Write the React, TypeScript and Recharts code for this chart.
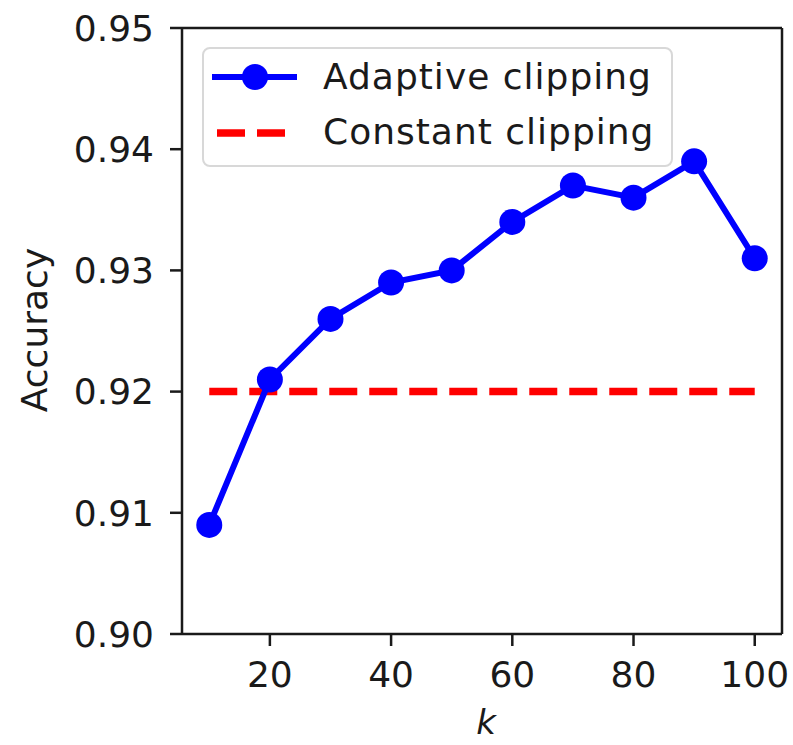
import React from 'react';
import { LineChart, Line, XAxis, YAxis, ReferenceLine } from 'recharts';

const kValues = [10, 20, 30, 40, 50, 60, 70, 80, 90, 100];
const adaptiveAcc = [0.909, 0.921, 0.926, 0.929, 0.930, 0.934, 0.937, 0.936, 0.939, 0.931];
const constantAcc = [0.92, 0.92, 0.92, 0.92, 0.92, 0.92, 0.92, 0.92, 0.92, 0.92];
const xTicks = [20, 40, 60, 80, 100];
const yTicks = [0.90, 0.91, 0.92, 0.93, 0.94, 0.95];
const seriesNames = ['Adaptive clipping', 'Constant clipping'];

const data = kValues.map((k, i) => ({ k, adaptive: adaptiveAcc[i], constant: constantAcc[i] }));

const font = '"DejaVu Sans", sans-serif';
const ink = '#1a1a1a';
const BLUE = '#0000ff';
const RED = '#ff0000';

export default function App() {
  const tick = { fontSize: 36, fill: ink, fontFamily: font };
  const legendText: React.CSSProperties = {
    position: 'absolute',
    left: 119,
    height: 40,
    lineHeight: '40px',
    whiteSpace: 'nowrap',
    letterSpacing: 1,
  };
  return (
    <div style={{ position: 'absolute', left: 0, top: 0, width: 793, height: 745, background: '#fff' }}>
      <LineChart width={793} height={745} data={data} margin={{ top: 28, right: 11, left: 0, bottom: 0 }}>
        <XAxis
          dataKey="k"
          type="number"
          domain={[5.5, 104.5]}
          ticks={xTicks}
          height={111}
          tick={tick}
          tickSize={12}
          tickMargin={15}
          stroke={ink}
          strokeWidth={2.5}
          label={{
            content: () => (
              <text x={486} y={734} textAnchor="middle" fontSize={34} fontStyle="italic" fontFamily={font} fill={ink}>
                k
              </text>
            ),
          }}
        />
        <YAxis
          type="number"
          domain={[0.9, 0.95]}
          ticks={yTicks}
          width={182}
          tick={tick}
          tickSize={12}
          tickMargin={16}
          tickFormatter={(v: number) => v.toFixed(2)}
          stroke={ink}
          strokeWidth={2.5}
          label={{
            content: () => (
              <text x={47} y={330} textAnchor="middle" fontSize={36} fontFamily={font} fill={ink} transform="rotate(-90 47 330)">
                Accuracy
              </text>
            ),
          }}
        />
        <ReferenceLine y={0.95} stroke={ink} strokeWidth={2.5} />
        <ReferenceLine x={104.5} stroke={ink} strokeWidth={2.5} />
        <Line
          dataKey="constant"
          stroke={RED}
          strokeWidth={7.5}
          strokeDasharray="28 12"
          dot={false}
          activeDot={false}
          isAnimationActive={false}
        />
        <Line
          dataKey="adaptive"
          stroke={BLUE}
          strokeWidth={6}
          dot={{ r: 13, fill: BLUE, stroke: 'none' }}
          activeDot={false}
          isAnimationActive={false}
        />
      </LineChart>
      <div
        style={{
          position: 'absolute',
          left: 202,
          top: 47,
          width: 471,
          height: 120,
          boxSizing: 'border-box',
          border: '2px solid #d8d8d8',
          borderRadius: 8,
          background: 'rgba(255,255,255,0.85)',
          fontFamily: font,
          fontSize: 36,
          color: ink,
        }}
      >
        <svg width={110} height={116} style={{ position: 'absolute', left: 0, top: 0 }}>
          <line x1={8} y1={28} x2={93} y2={28} stroke={BLUE} strokeWidth={6} />
          <circle cx={51} cy={28} r={13} fill={BLUE} />
          <line x1={13} y1={84} x2={81} y2={84} stroke={RED} strokeWidth={7.5} strokeDasharray="28 12" />
        </svg>
        <span style={{ ...legendText, top: 8 }}>{seriesNames[0]}</span>
        <span style={{ ...legendText, top: 63 }}>{seriesNames[1]}</span>
      </div>
    </div>
  );
}
